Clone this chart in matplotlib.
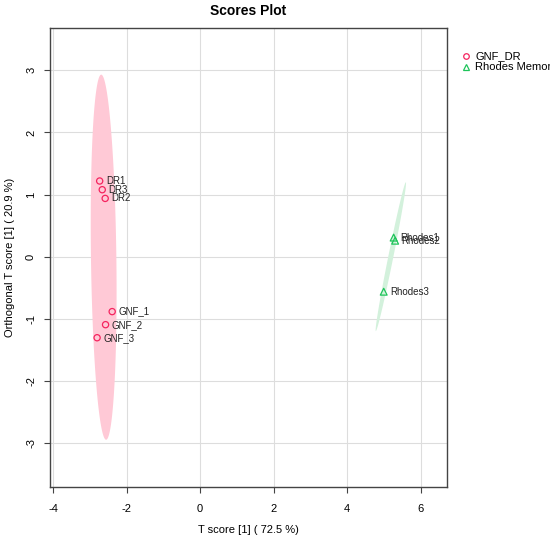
import numpy as np
import matplotlib
matplotlib.use("Agg")
import matplotlib.pyplot as plt

plt.rcParams['font.family'] = ['Liberation Sans', 'DejaVu Sans']
plt.rcParams['axes.unicode_minus'] = False

# Data
groups = ["GNF_DR", "Rhodes Memor"]
labels_a = ["DR1", "DR3", "DR2", "GNF_1", "GNF_2", "GNF_3"]
tx_a = [-2.73, -2.66, -2.58, -2.39, -2.57, -2.80]
ty_a = [1.22, 1.08, 0.94, -0.88, -1.09, -1.30]
labels_b = ["Rhodes1", "Rhodes2", "Rhodes3"]
tx_b = [5.26, 5.30, 4.99]
ty_b = [0.31, 0.26, -0.56]
xticks = [-4, -2, 0, 2, 4, 6]
yticks = [-3, -2, -1, 0, 1, 2, 3]

col_a = "#F5245F"
col_b = "#1EC45A"
fill_a = "#FFC9D6"
fill_b = "#D3F1DC"

def conf_ellipse(x, y, level=0.95, n=200):
    pts = np.column_stack([x, y])
    c = pts.mean(axis=0)
    cov = np.cov(pts, rowvar=False)
    t = np.sqrt(-2 * np.log(1 - level))
    vals, vecs = np.linalg.eigh(cov)
    a = np.linspace(0, 2 * np.pi, n)
    circ = np.vstack([np.cos(a), np.sin(a)])
    ell = vecs @ (np.sqrt(np.maximum(vals, 0))[:, None] * circ) * t
    return c[0] + ell[0], c[1] + ell[1]

fig = plt.figure(figsize=(5.5, 5.41), dpi=100)
ax = fig.add_axes([50/550, 1-487/541, 397/550, 459/541])

ex, ey = conf_ellipse(tx_a, ty_a)
ax.fill(ex, ey, color=fill_a, lw=0, zorder=1)
ex, ey = conf_ellipse(tx_b, ty_b)
ax.fill(ex, ey, color=fill_b, lw=0, zorder=1)

ax.scatter(tx_a, ty_a, s=20, marker='o', facecolors='none', edgecolors=col_a, linewidths=0.9, zorder=3)
ax.scatter(tx_b, ty_b, s=24, marker='^', facecolors='none', edgecolors=col_b, linewidths=0.9, zorder=3)
for lx, ly, lab in zip(tx_a + tx_b, ty_a + ty_b, labels_a + labels_b):
    ax.text(lx + 0.17, ly, lab, fontsize=7, va='center', ha='left', color='#222222', zorder=4)

ax.set_xlim(-4.08, 6.71)
ax.set_ylim(-3.70, 3.68)
ax.set_xticks(xticks)
ax.set_yticks(yticks)
ax.grid(True, color='#DDDDDD', lw=0.8, zorder=0)
ax.set_axisbelow(True)
for s in ax.spines.values():
    s.set_color('#444444')
    s.set_linewidth(1.0)
ax.tick_params(axis='both', direction='out', length=4, width=0.8, color='#444444', labelsize=8)
ax.tick_params(axis='x', pad=8)
ax.tick_params(axis='y', pad=6)
for lab in ax.get_yticklabels():
    lab.set_rotation(90)
    lab.set_va('center')

ax.set_xlabel("T score [1] ( 72.5 %)", fontsize=8, labelpad=8)
ax.set_ylabel("Orthogonal T score [1] ( 20.9 %)", fontsize=8, labelpad=8)
fig.text(248/550, 1-11/541, "Scores Plot", fontsize=10, fontweight='bold', ha='center', va='center')

# Legend outside (clipped by figure edge)
fig.lines.append(plt.Line2D([466/550], [1-56/541], marker='o', ms=4, mfc='none', mec=col_a, mew=0.9, ls='none', transform=fig.transFigure))
fig.lines.append(plt.Line2D([466/550], [1-67/541], marker='^', ms=4.5, mfc='none', mec=col_b, mew=0.9, ls='none', transform=fig.transFigure))
fig.text(475/550, 1-56/541, groups[0], fontsize=8, va='center', ha='left')
fig.text(475/550, 1-67/541, groups[1], fontsize=8, va='center', ha='left')

fig.savefig("out.png", dpi=100)
